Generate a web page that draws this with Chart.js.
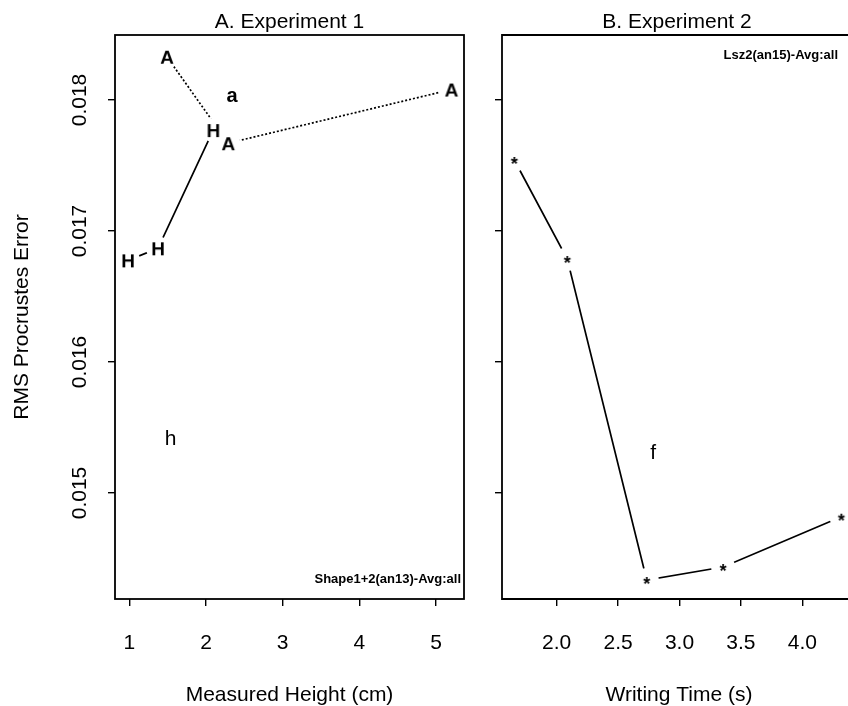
<!DOCTYPE html>
<html>
<head>
<meta charset="utf-8">
<script src="https://cdn.jsdelivr.net/npm/chart.js@4.4.1/dist/chart.umd.min.js"></script>
<style>
  body { margin: 0; background: #fff; }
  #wrap { position: relative; width: 848px; height: 706px; overflow: hidden; }
  #left { position: absolute; left: 0; top: 0; }
  #right { position: absolute; left: 480px; top: 0; }
</style>
</head>
<body>
<div id="wrap">
  <canvas id="left" width="480" height="706"></canvas>
  <canvas id="right" width="368" height="706"></canvas>
</div>
<script>
// panel A: height vs error, two series (A and H)
const heightA = [1.49, 2.29, 5.20];
const errorA = [0.01833, 0.01767, 0.01808];
const heightH = [0.983, 1.374, 2.095];
const errorH = [0.016776, 0.016868, 0.01777];
// panel B: writing time vs error
const timeB = [1.655, 2.086, 2.733, 3.355, 4.318];
const errorB = [0.017542, 0.016786, 0.014336, 0.014435, 0.014819];

const heightTicks = [1, 2, 3, 4, 5];
const heightTickLabels = ['1', '2', '3', '4', '5'];
const timeTicks = [2.0, 2.5, 3.0, 3.5, 4.0];
const timeTickLabels = ['2.0', '2.5', '3.0', '3.5', '4.0'];
const errorTicks = [0.015, 0.016, 0.017, 0.018];
const errorTickLabels = ['0.015', '0.016', '0.017', '0.018'];

const FONT = "'Liberation Sans', Arial, Helvetica, sans-serif";
const INK = '#000';

function pts(xs, ys) {
    return xs.map((x, i) => ({ x: x, y: ys[i] }));
}

// letter used as plotting symbol, centred on its visible box
function glyph(ch, font) {
    const r = 14;
    const c = document.createElement('canvas');
    c.width = c.height = r * 2;
    const g = c.getContext('2d');
    g.font = font;
    g.fillStyle = INK;
    g.textAlign = 'center';
    const m = g.measureText(ch);
    g.fillText(ch, r, r + (m.actualBoundingBoxAscent - m.actualBoundingBoxDescent) / 2);
    return c;
}

function ctext(ctx, s, x, y, font, align) {
    ctx.font = font;
    ctx.textAlign = align || 'center';
    ctx.textBaseline = 'alphabetic';
    const m = ctx.measureText(s);
    ctx.fillText(s, x, y + (m.actualBoundingBoxAscent - m.actualBoundingBoxDescent) / 2);
}

function vtext(ctx, s, x, y, font) {
    ctx.save();
    ctx.translate(x, y);
    ctx.rotate(-Math.PI / 2);
    ctext(ctx, s, 0, 0, font);
    ctx.restore();
}

const lineSet = (data, dash) => ({
    data: data, showLine: true, borderColor: INK, borderWidth: 1.7,
    borderDash: dash || [], pointRadius: 0, order: 3
});
const gapSet = (data) => ({
    data: data, showLine: false, pointStyle: 'circle', pointRadius: 12,
    pointBackgroundColor: '#fff', pointBorderWidth: 0, order: 2
});
const markSet = (data, img) => ({
    data: data, showLine: false, pointStyle: img, pointRadius: 4, order: 1
});

function scales(xMin, xMax, xTicks, yWidth) {
    const tickGrid = { drawOnChartArea: false, drawTicks: true, tickLength: 7, color: INK, lineWidth: 1.4 };
    return {
        x: {
            type: 'linear', min: xMin, max: xMax,
            grid: tickGrid, border: { display: false }, ticks: { display: false },
            afterBuildTicks: (s) => { s.ticks = xTicks.map(v => ({ value: v })); },
            afterFit: (s) => { s.height = 107; }
        },
        y: {
            type: 'linear', min: 0.014191, max: 0.018496,
            grid: tickGrid, border: { display: false }, ticks: { display: false },
            afterBuildTicks: (s) => { s.ticks = errorTicks.map(v => ({ value: v })); },
            afterFit: (s) => { s.width = yWidth; }
        }
    };
}

const decoLeft = {
    id: 'decoLeft',
    afterDraw(chart) {
        const ctx = chart.ctx, a = chart.chartArea;
        const xs = chart.scales.x, ys = chart.scales.y;
        ctx.save();
        ctx.strokeStyle = INK;
        ctx.lineWidth = 1.8;
        ctx.strokeRect(a.left, a.top, a.right - a.left, a.bottom - a.top);
        ctx.fillStyle = INK;
        ctext(ctx, 'A. Experiment 1', (a.left + a.right) / 2, 22, '21px ' + FONT);
        heightTicks.forEach((v, i) => ctext(ctx, heightTickLabels[i], xs.getPixelForValue(v), 642, '21px ' + FONT));
        errorTicks.forEach((v, i) => vtext(ctx, errorTickLabels[i], 79, ys.getPixelForValue(v), '21px ' + FONT));
        vtext(ctx, 'RMS Procrustes Error', 21, (a.top + a.bottom) / 2, '21px ' + FONT);
        ctext(ctx, 'Measured Height (cm)', (a.left + a.right) / 2, 695, '21px ' + FONT);
        ctext(ctx, 'a', xs.getPixelForValue(2.34), ys.getPixelForValue(0.01803), 'bold 20px ' + FONT);
        ctext(ctx, 'h', xs.getPixelForValue(1.54), ys.getPixelForValue(0.015427), '21px ' + FONT);
        ctext(ctx, 'Shape1+2(an13)-Avg:all', a.right - 3, a.bottom - 19, 'bold 13px ' + FONT, 'right');
        ctx.restore();
    }
};

const decoRight = {
    id: 'decoRight',
    afterDraw(chart) {
        const ctx = chart.ctx, a = chart.chartArea;
        const xs = chart.scales.x, ys = chart.scales.y;
        ctx.save();
        ctx.strokeStyle = INK;
        ctx.lineWidth = 1.8;
        ctx.beginPath();
        ctx.moveTo(a.right + 2, a.top);
        ctx.lineTo(a.left, a.top);
        ctx.lineTo(a.left, a.bottom);
        ctx.lineTo(a.right + 2, a.bottom);
        ctx.stroke();
        ctx.fillStyle = INK;
        ctext(ctx, 'B. Experiment 2', 197, 22, '21px ' + FONT);
        timeTicks.forEach((v, i) => ctext(ctx, timeTickLabels[i], xs.getPixelForValue(v), 642, '21px ' + FONT));
        ctext(ctx, 'Writing Time (s)', 199, 695, '21px ' + FONT);
        ctext(ctx, 'f', xs.getPixelForValue(2.786), ys.getPixelForValue(0.01532), '21px ' + FONT);
        ctext(ctx, 'Lsz2(an15)-Avg:all', a.right - 10, a.top + 21, 'bold 13px ' + FONT, 'right');
        ctx.restore();
    }
};

const common = {
    responsive: false,
    animation: false,
    events: [],
    plugins: { legend: { display: false }, tooltip: { enabled: false } }
};

const markA = glyph('A', 'bold 19px ' + FONT);
const markH = glyph('H', 'bold 19px ' + FONT);
const markStar = glyph('*', 'bold 18px ' + FONT);

new Chart(document.getElementById('left'), {
    type: 'scatter',
    data: {
        datasets: [
            lineSet(pts(heightA, errorA), [2, 2]),
            lineSet(pts(heightH, errorH)),
            gapSet(pts(heightA, errorA)),
            gapSet(pts(heightH, errorH)),
            markSet(pts(heightA, errorA), markA),
            markSet(pts(heightH, errorH), markH)
        ]
    },
    options: Object.assign({}, common, {
        layout: { autoPadding: false, padding: { top: 35, right: 16, left: 0, bottom: 0 } },
        scales: scales(0.8136, 5.364, heightTicks, 115)
    }),
    plugins: [decoLeft]
});

new Chart(document.getElementById('right'), {
    type: 'scatter',
    data: {
        datasets: [
            lineSet(pts(timeB, errorB)),
            gapSet(pts(timeB, errorB)),
            markSet(pts(timeB, errorB), markStar)
        ]
    },
    options: Object.assign({}, common, {
        layout: { autoPadding: false, padding: { top: 35, right: 0, left: 0, bottom: 0 } },
        scales: scales(1.5546, 4.372, timeTicks, 22)
    }),
    plugins: [decoRight]
});
</script>
</body>
</html>
